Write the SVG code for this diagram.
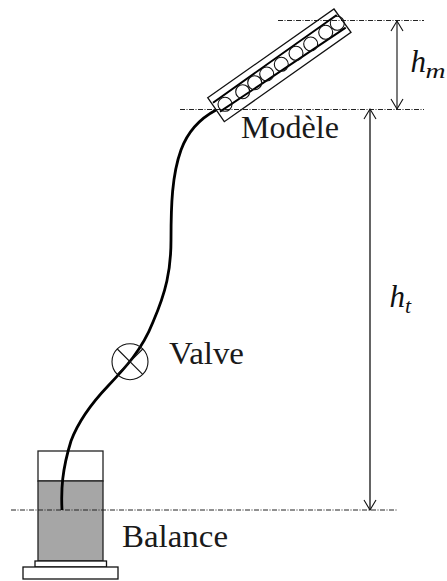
<svg xmlns="http://www.w3.org/2000/svg" width="447" height="581" viewBox="0 0 447 581">
<style>
.t{font-family:"Liberation Serif","Times New Roman",serif;font-size:31px;fill:#1a1a1a}
.m{font-family:"Liberation Serif","Times New Roman",serif;font-style:italic;fill:#111}
.s{fill:none;stroke:#111;stroke-width:1.3}
.d{fill:none;stroke:#222;stroke-width:1;stroke-dasharray:5 1.5 1 1.5}
.p{fill:none;stroke:#000;stroke-width:2.8}
.c{fill:none;stroke:#111;stroke-width:1.1}
.a{fill:none;stroke:#111;stroke-width:1.1}
</style>
<g id="balance">
<rect x="38" y="451" width="65" height="30" fill="#fff" stroke="#222" stroke-width="1.3"/>
<rect x="38" y="481" width="65" height="80" fill="#a6a6a6" stroke="#222" stroke-width="1.3"/>
<rect x="35" y="561" width="71.500" height="6" fill="#fff" stroke="#111" stroke-width="1.3"/>
<rect x="23" y="567" width="95" height="12" fill="#fff" stroke="#111" stroke-width="1.3"/>
<text class="t" x="122" y="547" textLength="106" lengthAdjust="spacingAndGlyphs">Balance</text>
</g>
<g id="connectors">
<path class="d" d="M11 510H397"/>
<path class="d" d="M278 20.500H424"/>
<path class="d" d="M180 109.500H424"/>
<path class="p" d="M62 510C61 490 62 470 71 441C77 425 88 407 108 386C125 368 142 350 153 322C166 292 171 270 171 240C171 205 172 175 181 150C189 128 203 117 216 110"/>
<path class="s" style="stroke:#333" d="M397 21V109"/>
<path class="a" d="M391 31L397 21L403 31M391 99L397 109L403 99"/>
<path class="s" d="M370 109V510"/>
<path class="a" d="M364 119L370 109L376 119M364 500L370 510L376 500"/>
</g>
<g id="model">
<path class="s" d="M207.700 97.700L334 9L351 32.300L224.300 121.700Z" fill="#fff"/>
<path d="M213 102.700L336.700 15M220 111.700L345.700 27.700" fill="none" stroke="#000" stroke-width="2"/>
<g class="c">
<circle cx="225" cy="104.300" r="7"/><circle cx="242.700" cy="91.700" r="7"/><circle cx="254.700" cy="82.700" r="7"/><circle cx="266.700" cy="74" r="7"/><circle cx="281.300" cy="64.300" r="7"/><circle cx="296" cy="53.300" r="7"/><circle cx="310.700" cy="44" r="7"/><circle cx="325.700" cy="32.300" r="7"/><circle cx="337.300" cy="23.300" r="7"/>
</g>
<text class="t" x="241" y="138" textLength="98" lengthAdjust="spacingAndGlyphs">Modèle</text>
</g>
<g id="valve">
<circle class="c" cx="130" cy="361.700" r="18"/>
<path class="c" d="M117.300 349L142.700 374.400M142.700 349L117.300 374.400"/>
<text class="t" x="169" y="364" textLength="75" lengthAdjust="spacingAndGlyphs">Valve</text>
</g>
<g id="labels">
<text class="m" x="410.500" y="72" font-size="31">h</text>
<text class="m" x="425.500" y="78" font-size="22" textLength="20" lengthAdjust="spacingAndGlyphs">m</text>
<text class="m" x="389.500" y="307" font-size="31">h</text>
<text class="m" x="405" y="312.500" font-size="22">t</text>
</g>
</svg>
